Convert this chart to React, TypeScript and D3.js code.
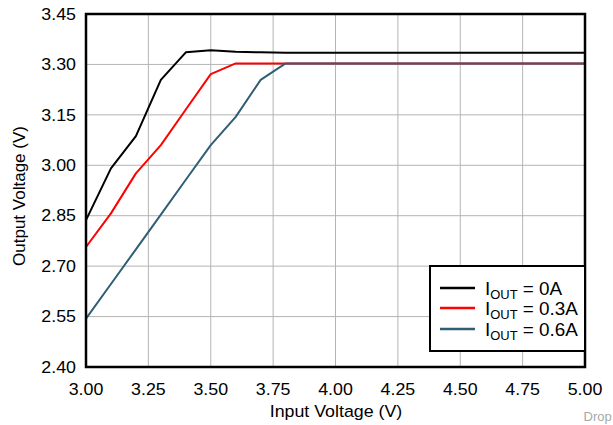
import React from "react";
import * as d3 from "d3";

const inputV = [3.0, 3.1, 3.2, 3.3, 3.4, 3.5, 3.6, 3.7, 3.8, 3.9, 4.0, 4.5, 5.0];
const iout0 = [2.837, 2.991, 3.087, 3.254, 3.336, 3.342, 3.338, 3.336, 3.335, 3.335, 3.335, 3.335, 3.335];
const iout03 = [2.757, 2.857, 2.976, 3.06, 3.166, 3.271, 3.303, 3.303, 3.303, 3.303, 3.303, 3.303, 3.303];
const iout06 = [2.544, 2.647, 2.75, 2.853, 2.957, 3.06, 3.144, 3.254, 3.303, 3.303, 3.303, 3.303, 3.303];

const xTicks = [3.0, 3.25, 3.5, 3.75, 4.0, 4.25, 4.5, 4.75, 5.0];
const yTicks = [2.4, 2.55, 2.7, 2.85, 3.0, 3.15, 3.3, 3.45];
const seriesLabels = ["0A", "0.3A", "0.6A"];
const seriesColors = ["#000000", "#ff0000", "#2f5e75"];

const W = 613, H = 425;
const L = 86, R = 585, T = 14, B = 367;
const FONT = "'Liberation Sans', Arial, Helvetica, sans-serif";
const SX = 1.08;

export default function App() {
  const x = d3.scaleLinear().domain([3, 5]).range([L, R]);
  const y = d3.scaleLinear().domain([2.4, 3.45]).range([B, T]);
  const series = [iout0, iout03, iout06];
  const line = d3
    .line<number>()
    .x((_, i) => x(inputV[i]))
    .y((d) => y(d));

  const legX = 430, legY = 266, legW = 155, legH = 85;
  const rowY = [288, 308, 329];

  return (
    <svg
      width={W}
      height={H}
      style={{ position: "absolute", left: 0, top: 0, background: "#fff" }}
      fontFamily={FONT}
    >
      <rect x={0} y={0} width={W} height={H} fill="#fff" />
      {xTicks.map((t) => (
        <line key={"gx" + t} x1={x(t)} x2={x(t)} y1={T} y2={B} stroke="#b4b4b4" strokeWidth={1} />
      ))}
      {yTicks.map((t) => (
        <line key={"gy" + t} x1={L} x2={R} y1={y(t)} y2={y(t)} stroke="#b4b4b4" strokeWidth={1} />
      ))}
      {series.map((s, i) => (
        <path key={"s" + i} d={line(s) || ""} fill="none" stroke={seriesColors[i]} strokeWidth={2} strokeLinejoin="round" />
      ))}
      <rect x={L} y={T} width={R - L} height={B - T} fill="none" stroke="#000" strokeWidth={2.5} />
      {xTicks.map((t) => (
        <text key={"tx" + t} transform={`translate(${x(t)},395) scale(${SX},1)`} textAnchor="middle" fontSize={16.5} fill="#000">
          {t.toFixed(2)}
        </text>
      ))}
      {yTicks.map((t) => (
        <text key={"ty" + t} transform={`translate(76,${y(t)}) scale(${SX},1)`} dy="0.35em" textAnchor="end" fontSize={16.5} fill="#000">
          {t.toFixed(2)}
        </text>
      ))}
      <text transform={`translate(336,416.5) scale(${SX},1)`} textAnchor="middle" fontSize={16.5} fill="#000">
        Input Voltage (V)
      </text>
      <text transform="translate(25,196) rotate(-90)" textAnchor="middle" fontSize={17} fill="#000">
        Output Voltage (V)
      </text>
      <rect x={legX} y={legY} width={legW} height={legH} fill="#fff" stroke="#000" strokeWidth={2} />
      {seriesLabels.map((lab, i) => (
        <g key={"l" + i}>
          <line x1={440} x2={475} y1={rowY[i]} y2={rowY[i]} stroke={seriesColors[i]} strokeWidth={2.5} />
          <text transform={`translate(485,${rowY[i] + 6.5}) scale(${SX},1)`} fontSize={17.5} fill="#000">
            I<tspan fontSize={12} dy={4}>OUT</tspan>
            <tspan dy={-4}> = {lab}</tspan>
          </text>
        </g>
      ))}
      <text x={583.5} y={421} fontSize={13} fill="#a8a8a8">
        Drop
      </text>
    </svg>
  );
}
